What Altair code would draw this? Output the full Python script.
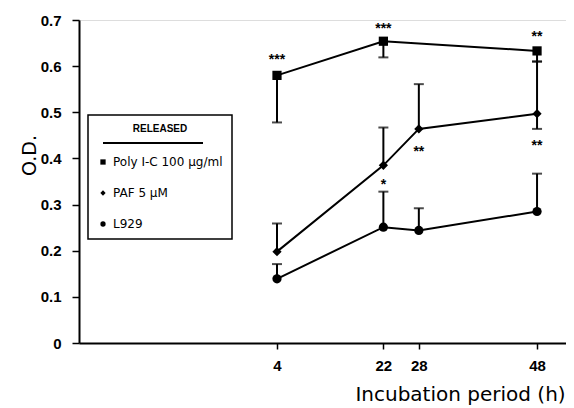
import altair as alt
import pandas as pd

# ---- data ----
series_names = ["Poly I-C 100 µg/ml", "PAF 5 µM", "L929"]

poly_hours = [4, 22, 48]
poly_od = [0.580, 0.654, 0.633]
poly_err_lo = [0.478, 0.619, 0.610]
poly_err_hi = [0.580, 0.654, 0.633]

paf_hours = [4, 22, 28, 48]
paf_od = [0.198, 0.385, 0.464, 0.497]
paf_err_lo = [0.198, 0.385, 0.464, 0.464]
paf_err_hi = [0.259, 0.467, 0.561, 0.610]

l929_hours = [4, 22, 28, 48]
l929_od = [0.139, 0.251, 0.244, 0.285]
l929_err_lo = [0.139, 0.251, 0.244, 0.285]
l929_err_hi = [0.171, 0.328, 0.292, 0.367]

star_hours = [4, 22, 48, 28, 48, 22]
star_od = [0.621, 0.689, 0.671, 0.422, 0.436, 0.351]
star_text = ["***", "***", "**", "**", "**", "*"]

x_ticks = [4, 22, 28, 48]
y_ticks = [0, 0.05, 0.1, 0.15, 0.2, 0.25, 0.3, 0.35, 0.4, 0.45, 0.5, 0.55, 0.6, 0.65, 0.7]

# ---- tables ----
rows, err_rows, cap_rows = [], [], []
for name, hrs, od, lo, hi in [
    (series_names[0], poly_hours, poly_od, poly_err_lo, poly_err_hi),
    (series_names[1], paf_hours, paf_od, paf_err_lo, paf_err_hi),
    (series_names[2], l929_hours, l929_od, l929_err_lo, l929_err_hi),
]:
    for h, v, a, b in zip(hrs, od, lo, hi):
        rows.append({"hour": h, "od": v, "series": name})
        err_rows.append({"hour": h, "lo": a, "hi": b})
        for e in (a, b):
            if abs(e - v) > 1e-9:
                cap_rows.append({"hour": h, "cap": e})

df = pd.DataFrame(rows)
df_err = pd.DataFrame(err_rows)
df_cap = pd.DataFrame(cap_rows)
df_star = pd.DataFrame({"hour": star_hours, "od": star_od, "txt": star_text})

xscale = alt.Scale(domain=[-29.5, 52.9], nice=False, zero=False)
yscale = alt.Scale(domain=[0, 0.7], nice=False)

x_enc = alt.X("hour:Q", scale=xscale, axis=alt.Axis(
    values=x_ticks, title="Incubation period (h)", grid=False,
    domainColor="black", domainWidth=2, tickColor="black", tickWidth=1.5, tickSize=6,
    labelFont="Liberation Sans", labelFontWeight="bold", labelFontSize=15, labelColor="black",
    labelPadding=9, labelFlush=False,
    titleFont="DejaVu Sans", titleFontSize=20, titleFontWeight="normal", titleColor="black",
    titleX=381, titleY=51, titleAlign="center", titleBaseline="middle"))

y_enc = alt.Y("od:Q", scale=yscale, axis=alt.Axis(
    values=y_ticks, title="O.D.", grid=False,
    domainColor="black", domainWidth=2, tickColor="black", tickWidth=1.5,
    tickSize={"condition": {"test": "round(datum.value*20) % 2 == 1", "value": 3}, "value": 7},
    labelExpr="round(datum.value*20) % 2 == 1 ? '' : (datum.value == 0 ? '0' : format(datum.value, '.1f'))",
    labelFont="Liberation Sans", labelFontWeight="bold", labelFontSize=15, labelColor="black",
    labelPadding=11, labelFlush=False,
    titleFont="DejaVu Sans", titleFontSize=19, titleFontWeight="normal", titleColor="black",
    titleX=-50, titleY=135, titleAlign="center", titleBaseline="middle", titleAngle=270))

base = alt.Chart(df)

lines = base.mark_line(color="black", strokeWidth=2).encode(
    x=x_enc, y=y_enc, detail="series:N")

errs = alt.Chart(df_err).mark_rule(color="black", strokeWidth=2).encode(
    x=alt.X("hour:Q", scale=xscale), y=alt.Y("lo:Q", scale=yscale), y2="hi:Q")

caps = alt.Chart(df_cap).mark_tick(color="black", thickness=2, size=10, orient="horizontal").encode(
    x=alt.X("hour:Q", scale=xscale), y=alt.Y("cap:Q", scale=yscale))

points = base.mark_point(filled=True, color="black", opacity=1, size=85).encode(
    x=alt.X("hour:Q", scale=xscale),
    y=alt.Y("od:Q", scale=yscale),
    shape=alt.Shape("series:N",
                    scale=alt.Scale(domain=series_names, range=["square", "diamond", "circle"]),
                    sort=series_names,
                    legend=alt.Legend(
                        title="RELEASED", orient="none", legendX=9, legendY=95,
                        strokeColor="black", padding=9,
                        titleFont="Liberation Sans", titleFontSize=10, titleFontWeight="bold",
                        titleColor="black", titleAnchor="middle", titlePadding=22,
                        labelFont="DejaVu Sans", labelFontSize=12, labelColor="black",
                        symbolSize=28, symbolFillColor="black", symbolStrokeColor="black",
                        symbolStrokeWidth=0, rowPadding=19, labelOffset=4)),
)

stars = alt.Chart(df_star).mark_text(
    font="Liberation Sans", fontSize=14, fontWeight="bold", color="black",
    baseline="middle", dy=4).encode(
    x=alt.X("hour:Q", scale=xscale), y=alt.Y("od:Q", scale=yscale), text="txt:N")

underline = alt.Chart(df_star).mark_rule(color="black", strokeWidth=1.5).encode(
    x=alt.value(24), x2=alt.value(124), y=alt.value(123))

chart = alt.layer(lines, errs, caps, points, stars, underline).properties(
    width=487, height=323,
    autosize=alt.AutoSizeParams(type="none"),
    padding={"left": 71, "top": 12, "right": 0, "bottom": 62},
).configure_view(stroke=None).configure(background="white").configure_legend(strokeWidth=1.5)

chart.save("out.html", embed_options={"renderer": "svg", "actions": False})
